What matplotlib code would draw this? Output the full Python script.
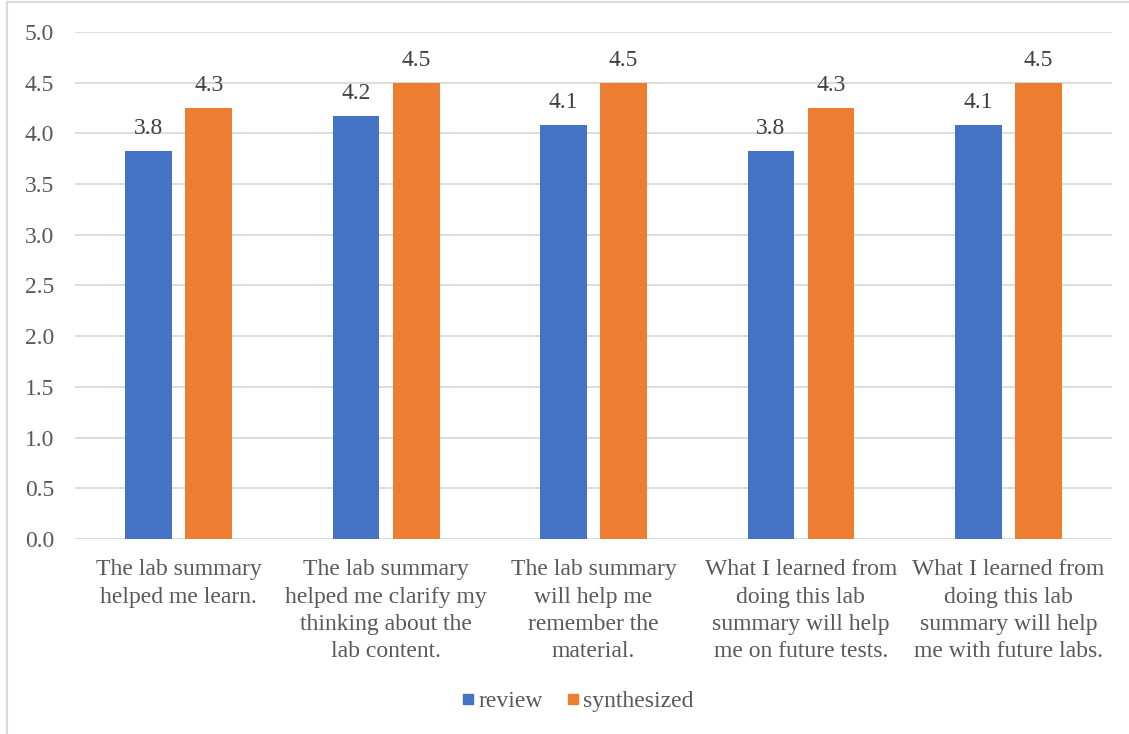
import matplotlib
matplotlib.use("Agg")
import matplotlib.pyplot as plt
from matplotlib.lines import Line2D
import numpy as np

# dati
categorie = [
    "The lab summary\nhelped me learn.",
    "The lab summary\nhelped me clarify my\nthinking about the\nlab content.",
    "The lab summary\nwill help me\nremember the\nmaterial.",
    "What I learned from\ndoing this lab\nsummary will help\nme on future tests.",
    "What I learned from\ndoing this lab\nsummary will help\nme with future labs.",
]
review = [3.83, 4.17, 4.08, 3.83, 4.08]
synthesized = [4.25, 4.50, 4.50, 4.25, 4.50]
serie = ["review", "synthesized"]
colori = ["#4472C4", "#ED7D31"]

grigio = "#595959"
plt.rcParams["font.family"] = ["Liberation Serif", "DejaVu Serif"]


def etichetta(v):
    # arrotondamento come Excel (mezzo verso l'alto)
    return f"{np.floor(v * 10 + 0.5) / 10:.1f}"


fig = plt.figure(figsize=(11.29, 7.34), dpi=100)
ax = fig.add_axes([0.0664, 0.2657, 0.9186, 0.6907])

x = np.arange(len(categorie))
larghezza = 0.225
offset = 0.145
for valori, nome, col, dx in zip([review, synthesized], serie, colori, [-offset, offset]):
    barre = ax.bar(x + dx, valori, larghezza, color=col, label=nome, zorder=3)
    for b, v in zip(barre, valori):
        ax.annotate(etichetta(v), (b.get_x() + b.get_width() / 2, v),
                    xytext=(0, 8.5), textcoords="offset points",
                    ha="center", va="bottom", fontsize=17, color="#404040")

ax.set_xlim(-0.5, len(categorie) - 0.5)
ax.set_ylim(0, 5)
ax.set_yticks(np.arange(0, 5.01, 0.5))
ax.set_yticklabels([f"{t:.1f}" for t in np.arange(0, 5.01, 0.5)])
ax.set_xticks(x)
ax.set_xticklabels(categorie, linespacing=1.4)
ax.tick_params(axis="y", length=0, pad=15, labelsize=17, labelcolor=grigio)
ax.tick_params(axis="x", length=0, pad=14.5, labelsize=17, labelcolor=grigio)
ax.yaxis.grid(True, color="#D9D9D9", linewidth=1.3, zorder=0)
ax.set_axisbelow(True)
for s in ax.spines.values():
    s.set_visible(False)

maniglie = [Line2D([0], [0], marker="s", linestyle="none", markersize=7,
                   markerfacecolor=c, markeredgecolor=c) for c in colori]
fig.legend(maniglie, serie, loc="center", bbox_to_anchor=(0.51, 0.044),
           ncol=2, frameon=False, fontsize=17, labelcolor=grigio,
           handletextpad=0.0, columnspacing=0.8, handlelength=0.9)

# bordo dell'area del grafico (solo sinistra e sopra visibili)
fig.add_artist(Line2D([7 / 1129, 7 / 1129], [0, 1 - 2 / 734], transform=fig.transFigure,
                      color="#D9D9D9", linewidth=1.5))
fig.add_artist(Line2D([7 / 1129, 1], [1 - 2 / 734, 1 - 2 / 734], transform=fig.transFigure,
                      color="#D9D9D9", linewidth=1.5))

plt.savefig("out.png", dpi=100)
plt.close()
